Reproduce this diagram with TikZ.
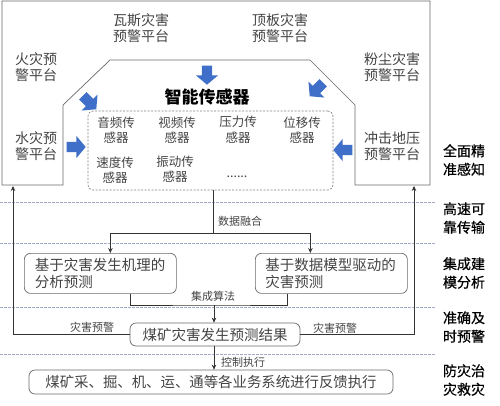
\documentclass[tikz,border=0pt]{standalone}
\usepackage{fontspec}
\setmainfont{Noto Sans CJK SC}
\newfontfamily\tagfont[FakeBold=0.6]{Noto Sans CJK SC}
\usetikzlibrary{arrows.meta,shapes.arrows}
\definecolor{blueA}{HTML}{3F6FC8}
\definecolor{txt}{HTML}{444444}
\definecolor{dline}{HTML}{A4AACB}
\definecolor{bord}{HTML}{6A6A6A}
\begin{document}
\begin{tikzpicture}[x=1pt,y=-1pt,
 every node/.style={inner sep=0pt, text=txt},
 plat/.style={font=\fontsize{14}{16}\selectfont, align=center},
 sensor/.style={font=\fontsize{12.5}{15.5}\selectfont, align=center},
 tag/.style={font=\tagfont\fontsize{14}{18.5}\selectfont, align=center, text=black},
 small/.style={font=\fontsize{11}{13}\selectfont},
 rbox/.style={draw=bord, line width=0.7pt, rounded corners=6pt, font=\fontsize{14.5}{17.5}\selectfont},
 line/.style={draw=black!80, line width=0.7pt},
 arr/.style={line, -{Stealth[length=5pt,width=4.5pt]}},
 blk/.style={single arrow, fill=blueA, draw=none, minimum height=19pt, single arrow head extend=6pt, inner sep=5pt, single arrow tip angle=100},
 sep/.style={draw=dline, line width=0.6pt, dash pattern=on 2.5pt off 1.5pt}
]
\useasboundingbox (0,0) rectangle (500,405);
\fill[white] (0,0) rectangle (500,405);

% outer frame
\draw[draw=bord, line width=0.7pt] (2,1) -- (430,1) -- (430,185) -- (355,185) -- (355,105) -- (310,60) -- (110,60) -- (63,105) -- (63,185) -- (2,185) -- cycle;

% separators
\foreach \yy in {202,243,307,354} \draw[sep] (0,\yy) -- (435,\yy);

% platforms
\node[plat] (gas) at (141,28) {瓦斯灾害\\预警平台};
\node[plat] (roof) at (280,28) {顶板灾害\\预警平台};
\node[plat] (fire) at (36,67) {火灾预\\警平台};
\node[plat] (water) at (36,146) {水灾预\\警平台};
\node[plat] (dust) at (392,67) {粉尘灾害\\预警平台};
\node[plat] (impact) at (392,146) {冲击地压\\预警平台};

% blue arrows
\node[blk, rotate=-90] (a1) at (207,73) {};
\node[blk, rotate=-45] (a2) at (88,101) {};
\node[blk] (a3) at (74,147) {};
\node[blk, rotate=-135] (a4) at (318,88) {};
\node[blk, rotate=180] (a5) at (345,150) {};

% sensors
\node[font=\fontsize{17}{20}\selectfont\bfseries, text=black] (title) at (207,97) {智能传感器};
\node[draw=gray, dash pattern=on 2pt off 1.5pt, rounded corners=5pt, line width=0.6pt, minimum width=245pt, minimum height=79pt] (sens) at (210.5,150.5) {};
\node[sensor] (s1) at (116,130) {音频传\\感器};
\node[sensor] (s2) at (177,130) {视频传\\感器};
\node[sensor] (s3) at (238,130) {压力传\\感器};
\node[sensor] (s4) at (302,130) {位移传\\感器};
\node[sensor] (s5) at (115,170) {速度传\\感器};
\node[sensor] (s6) at (175,169) {振动传\\感器};
\node[sensor] (s7) at (237,177) {......};

% right tags
\node[tag] (t1) at (464,160) {全面精\\准感知};
\node[tag] (t2) at (464,218) {高速可\\靠传输};
\node[tag] (t3) at (464,273) {集成建\\模分析};
\node[tag] (t4) at (464,327) {准确及\\时预警};
\node[tag] (t5) at (464,380) {防灾治\\灾救灾};

% analysis boxes
\node[rbox, anchor=north west, minimum width=152pt, minimum height=40pt, text width=131pt, inner xsep=10.5pt, align=left] (lb) at (24,253) {基于灾害发生机理的\\分析预测};
\node[rbox, anchor=north west, minimum width=152pt, minimum height=40pt, text width=132pt, inner xsep=10pt, align=left] (rb) at (255,253) {基于数据模型驱动的\\灾害预测};
\node[rbox, minimum width=170pt, minimum height=23pt] (res) at (215,334.5) {煤矿灾害发生预测结果};
\node[rbox, minimum width=364pt, minimum height=24pt, font=\fontsize{14.4}{17}\selectfont] (bot) at (211,382) {煤矿采、掘、机、运、通等各业务系统进行反馈执行};

% connectors
\coordinate (fj) at (213,233);
\coordinate (ij) at (214,305);
\coordinate (rl) at (13,186);
\coordinate (rr) at (414,186);
\draw[line] ([xshift=2.5pt]sens.south) -- (fj);
\draw[arr] (fj) -| ([xshift=10pt]lb.north);
\draw[arr] (fj) -| ([xshift=-21pt]rb.north);
\draw[line] ([xshift=30pt]lb.south) |- (ij) -| ([xshift=-44pt]rb.south);
\draw[arr] (ij) -- (ij |- res.north);
\draw[arr] (ij |- res.south) -- (ij |- bot.north);
\draw[arr] (res.west) -| (rl);
\draw[arr] (res.east) -| (rr);

% connector labels
\node[small] (l1) at (240,221) {数据融合};
\node[small] (l2) at (213,296) {集成算法};
\node[small] (l3) at (92,327) {灾害预警};
\node[small] (l4) at (335,328) {灾害预警};
\node[small] (l5) at (243,362) {控制执行};
\end{tikzpicture}
\end{document}
